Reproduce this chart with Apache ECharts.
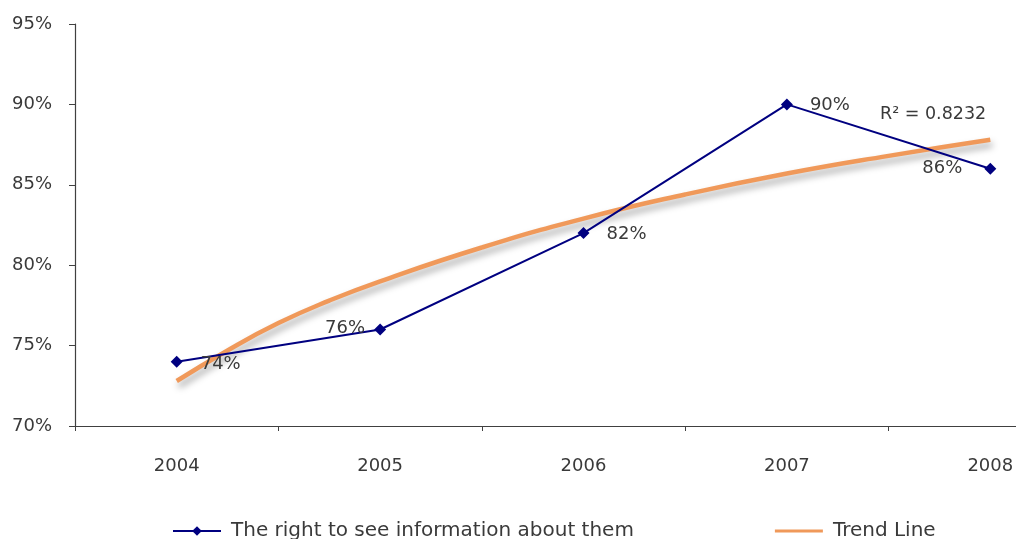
<!DOCTYPE html>
<html>
<head>
<meta charset="utf-8">
<script src="https://cdn.jsdelivr.net/npm/echarts@6/dist/echarts.min.js"></script>
<style>
  html, body { margin: 0; padding: 0; background: #ffffff; overflow: hidden; }
  /* plot runs on past the right edge of the window, so the last band is cut */
  #chart { width: 1092px; height: 539px; }
</style>
</head>
<body>
<div id="chart"></div>
<script>
// Survey years and share of respondents
const years = ['2004', '2005', '2006', '2007', '2008'];
const rightToSee = [74, 76, 82, 90, 86];

// Logarithmic trend curve (x = 1 is 2004, x = 5 is 2008)
const trendX = [1, 1.25, 1.5, 1.75, 2, 2.5, 3, 3.5, 4, 4.5, 5];
const trendY = [72.8, 74.7, 76.4, 77.8, 79.0, 81.1, 82.9, 84.4, 85.7, 86.8, 87.8];
const trendR2 = '0.8232';

const yTicks = { min: 70, max: 95, step: 5 };

const seriesName = 'The right to see information about them';
const trendName = 'Trend Line';

const FONT = 'DejaVu Sans';
const TEXT = '#3a3a3a';
const NAVY = '#000080';
const ORANGE = '#F0995A';

// label placement for each point
const labelPos = ['right', 'left', 'right', 'right', 'left'];
const labelOffset = [[10, 3], [-1, -1], [9, 1], [9, 1], [-14, 0]];

const chart = echarts.init(document.getElementById('chart'));

chart.setOption({
  animation: false,
  backgroundColor: '#ffffff',
  textStyle: { fontFamily: FONT },
  grid: { left: 75, top: 24, bottom: 113, right: 0, containLabel: false },
  legend: {
    left: 167,
    top: 516,
    itemWidth: 48,
    itemHeight: 12,
    itemGap: 141,
    textStyle: { fontFamily: FONT, fontSize: 20, color: TEXT, padding: [0, 0, 0, 5] },
    data: [
      { name: seriesName },
      { name: trendName, icon: 'path://M0,0 L50,0 L50,3 L0,3 Z' }
    ]
  },
  xAxis: [
    {
      type: 'category',
      data: years,
      boundaryGap: true,
      axisLine: { lineStyle: { color: '#404040', width: 1.2 } },
      axisTick: { show: true, length: 5, inside: false, lineStyle: { color: '#404040' } },
      axisLabel: { margin: 31, fontFamily: FONT, fontSize: 18, color: TEXT },
      splitLine: { show: false }
    },
    {
      type: 'value',
      min: 0.5,
      max: 5.5,
      show: false,
      position: 'bottom'
    }
  ],
  yAxis: {
    type: 'value',
    min: yTicks.min,
    max: yTicks.max,
    interval: yTicks.step,
    axisLine: { show: true, lineStyle: { color: '#404040', width: 1.2 } },
    axisTick: { show: true, length: 6, lineStyle: { color: '#404040' } },
    axisLabel: { margin: 23, fontFamily: FONT, fontSize: 18, color: TEXT, formatter: '{value}%' },
    splitLine: { show: false }
  },
  series: [
    {
      name: trendName,
      type: 'line',
      xAxisIndex: 1,
      data: trendX.map((x, i) => [x, trendY[i]]),
      smooth: true,
      showSymbol: false,
      symbol: 'none',
      z: 2,
      itemStyle: { color: ORANGE },
      lineStyle: {
        color: ORANGE,
        width: 4.5,
        shadowColor: 'rgba(0,0,0,0.35)',
        shadowBlur: 7,
        shadowOffsetX: 2,
        shadowOffsetY: 5
      }
    },
    {
      name: seriesName,
      type: 'line',
      data: rightToSee.map((v, i) => ({
        value: v,
        label: { position: labelPos[i], offset: labelOffset[i] }
      })),
      symbol: 'diamond',
      symbolSize: 12,
      z: 3,
      itemStyle: { color: NAVY },
      lineStyle: { color: NAVY, width: 2 },
      label: {
        show: true,
        formatter: '{c}%',
        fontFamily: FONT,
        fontSize: 18,
        color: TEXT,
        distance: 8
      }
    }
  ],
  graphic: [
    {
      type: 'text',
      left: 880,
      top: 105,
      style: { text: 'R² = ' + trendR2, font: '17.5px "' + FONT + '"', fill: TEXT }
    }
  ]
});
</script>
</body>
</html>
